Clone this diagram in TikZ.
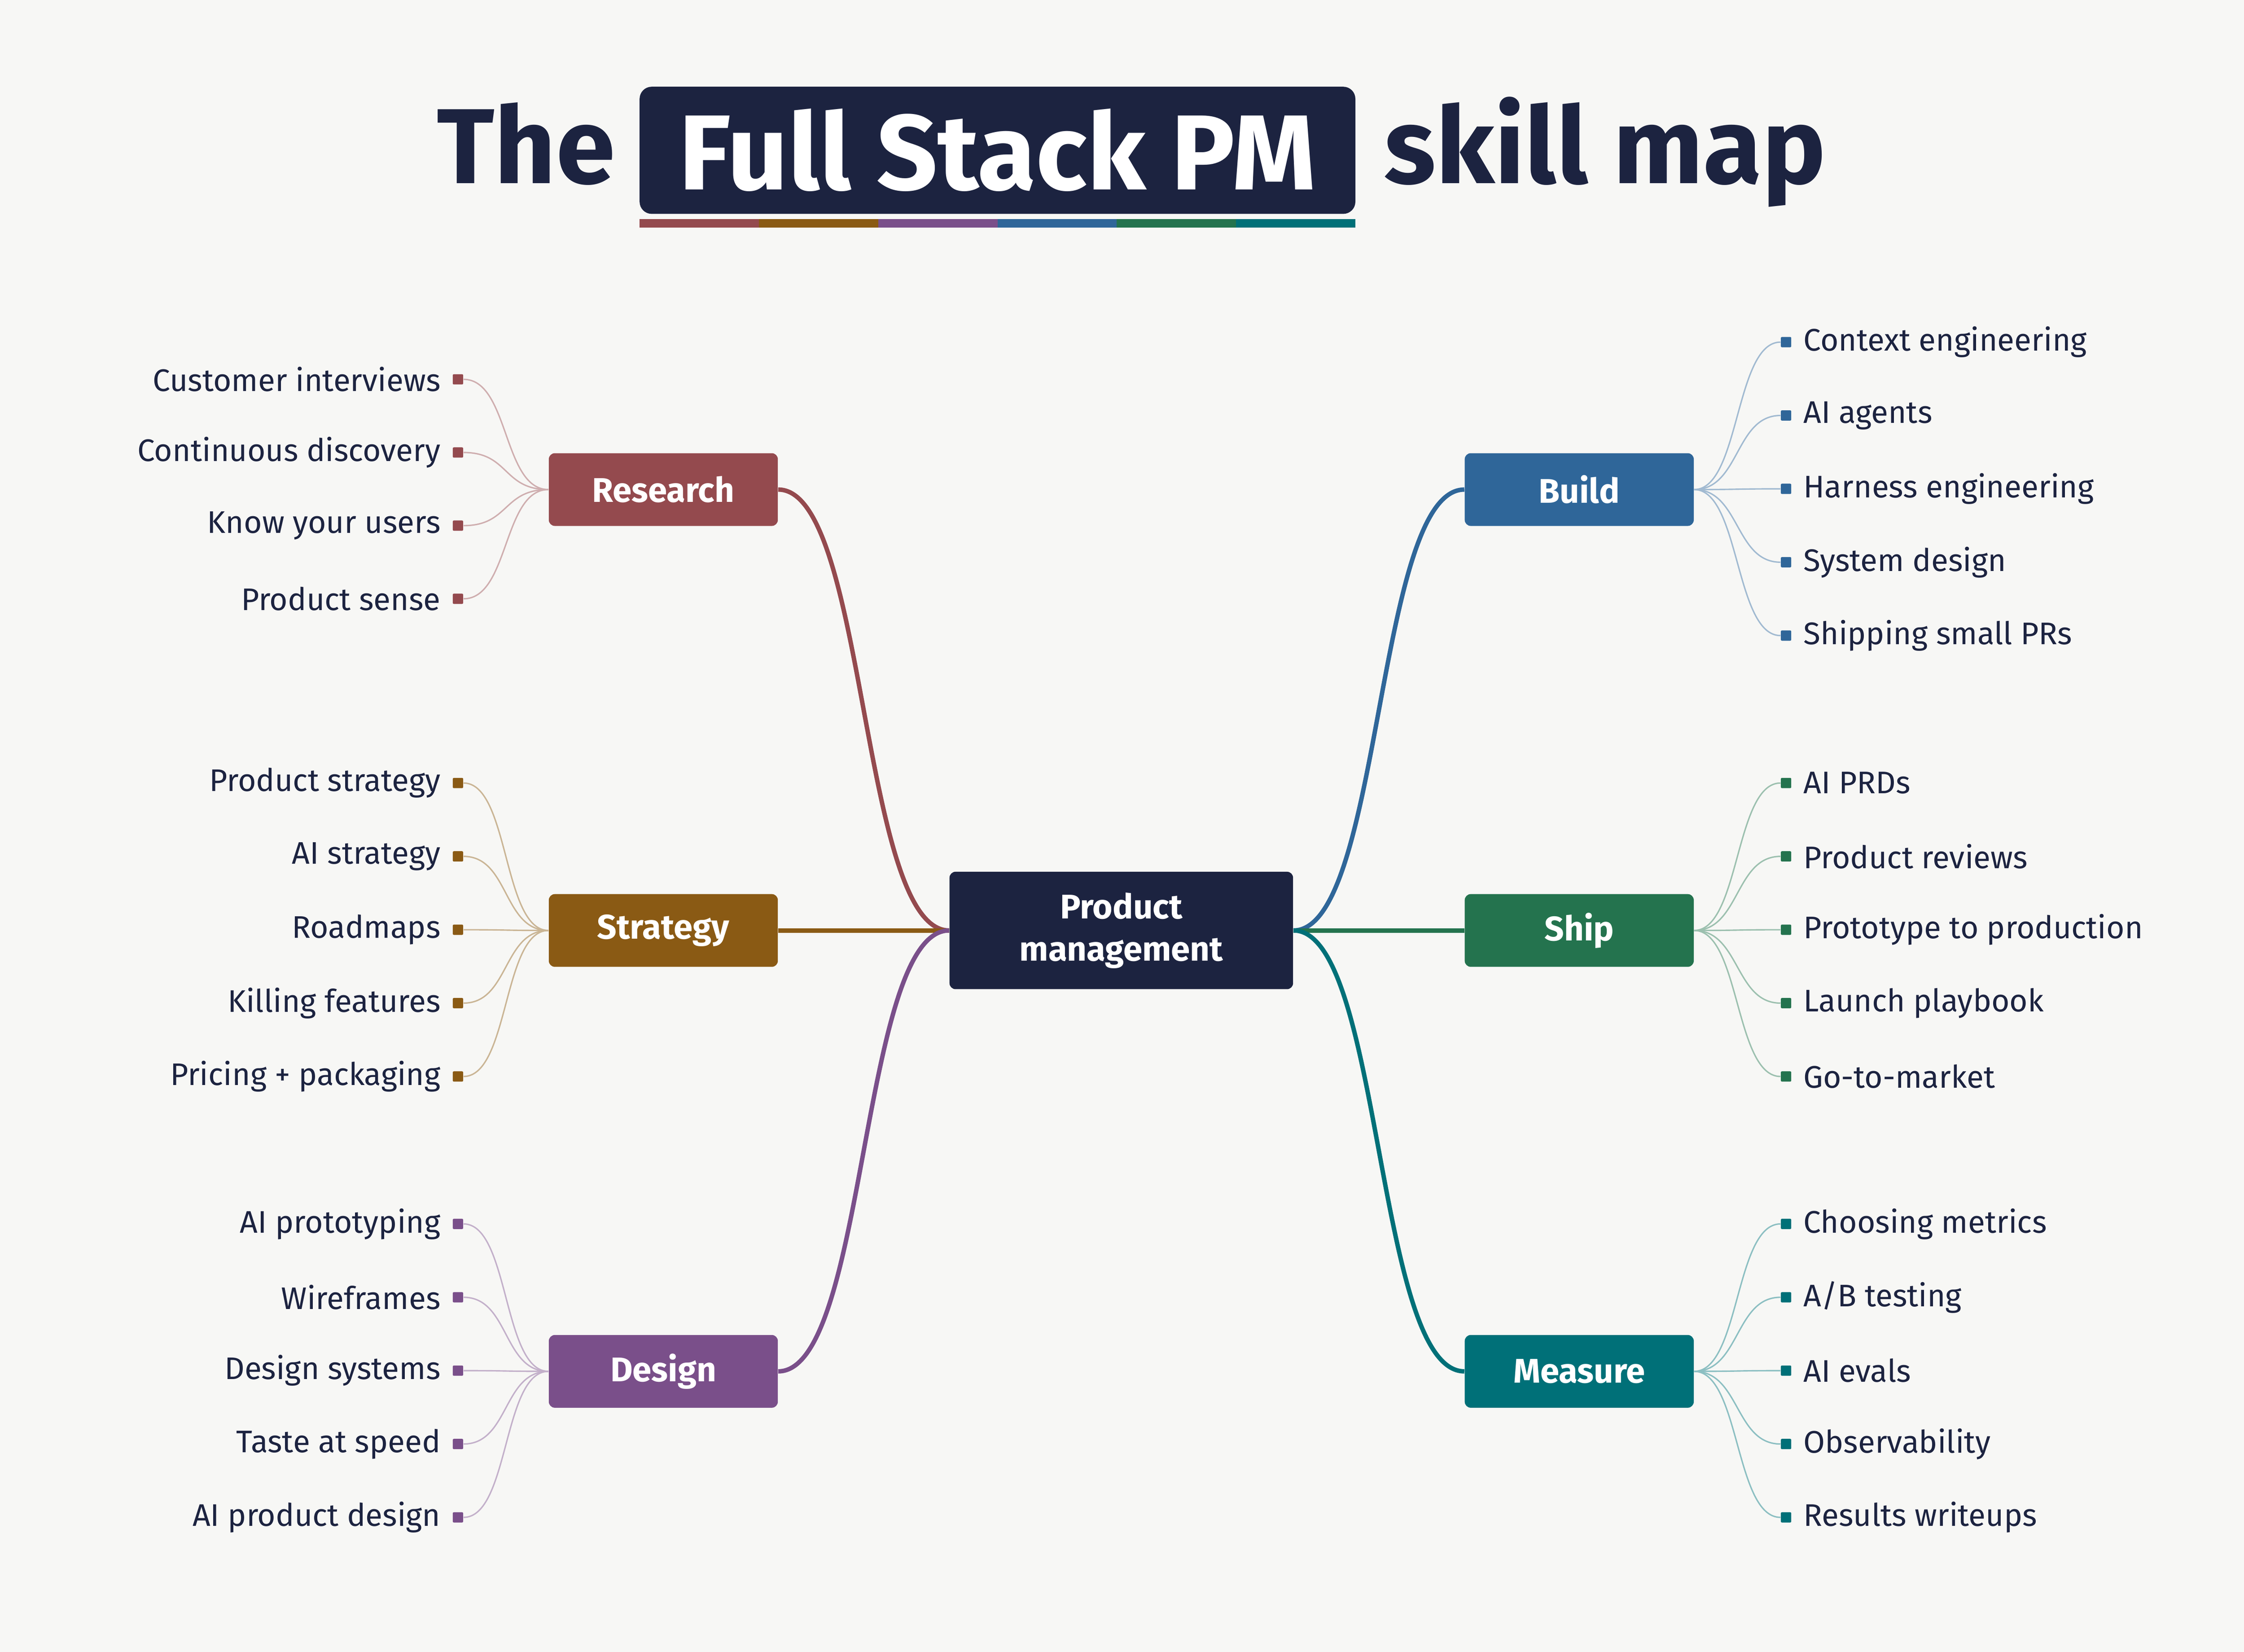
\documentclass[tikz,border=0pt]{standalone}
\usepackage{fontspec}
\setmainfont{Fira Sans}
\usetikzlibrary{positioning}
\definecolor{ink}{HTML}{1C2340}
\definecolor{paper}{HTML}{F7F7F5}
\definecolor{research}{HTML}{944A4E}
\definecolor{strategy}{HTML}{8A5A14}
\definecolor{design}{HTML}{7A4F8A}
\definecolor{build}{HTML}{2F6699}
\definecolor{ship}{HTML}{24734E}
\definecolor{measure}{HTML}{007078}
\tikzset{
  branch/.style={draw=none, fill=#1, rounded corners=3pt, text=white, font=\fontsize{17}{20}\selectfont\bfseries, minimum width=4cm, minimum height=1.27cm, inner sep=0pt},
  mark/.style={fill=#1, minimum size=0.18cm, inner sep=0pt, rounded corners=0.5pt},
  leaftext/.style={text=ink, font=\fontsize{15.5}{18}\selectfont, inner sep=0pt},
  trunk/.style={draw=#1, line width=2.2pt},
  twig/.style={draw=#1!45, line width=0.7pt},
  title/.style={text=ink, font=\fontsize{53}{60}\selectfont\bfseries, inner sep=0pt}
}
\begin{document}
\begin{tikzpicture}[x=0.025cm, y=-0.025cm]
  \fill[paper] (0,0) rectangle (1568,1154);
  \useasboundingbox (0,0) rectangle (1568,1154);

  % title
  \node[title, fill=ink, text=white, rounded corners=6pt, minimum width=12.5cm, minimum height=2.22cm] (full) at (697,105) {Full Stack PM};
  \node[title, anchor=base east] (the) at (430,128) {The};
  \node[title, anchor=base west] (skill) at (967,128) {skill map};
  \foreach \c [count=\i] in {research,strategy,design,build,ship,measure}
    \fill[\c] (447+83.33*\i-83.33,153) rectangle (447+83.33*\i,159);

  % centre and branches
  \node[branch=ink, minimum width=6cm, minimum height=2.05cm, align=center, font=\fontsize{17}{21}\selectfont\bfseries] (pm) at (783.5,650) {Product\\management};
  \node[branch=research] (research) at (463.5,342) {Research};
  \node[branch=strategy] (strategy) at (463.5,650) {Strategy};
  \node[branch=design] (design) at (463.5,958) {Design};
  \node[branch=build] (build) at (1103.5,342) {Build};
  \node[branch=ship] (ship) at (1103.5,650) {Ship};
  \node[branch=measure] (measure) at (1103.5,958) {Measure};

  \foreach \b in {research,strategy,design}
    \draw[trunk=\b] (pm.west) .. controls +(-62,0) and +(62,0) .. (\b.east);
  \foreach \b in {build,ship,measure}
    \draw[trunk=\b] (pm.east) .. controls +(62,0) and +(-62,0) .. (\b.west);

  % left leaves
  \foreach \t [count=\i] in {Customer interviews,Continuous discovery,Know your users,Product sense}{
    \pgfmathsetmacro\y{265+51.1*(\i-1)}
    \node[mark=research, label={[leaftext, xshift=-0.2cm]left:\t}] (research-\i) at (320,\y) {};
    \draw[twig=research] (research.west) .. controls +(-32,0) and +(32,0) .. (research-\i.east);
  }
  \foreach \t [count=\i] in {Product strategy,AI strategy,Roadmaps,Killing features,Pricing + packaging}{
    \pgfmathsetmacro\y{547+51.25*(\i-1)}
    \node[mark=strategy, label={[leaftext, xshift=-0.2cm]left:\t}] (strategy-\i) at (320,\y) {};
    \draw[twig=strategy] (strategy.west) .. controls +(-32,0) and +(32,0) .. (strategy-\i.east);
  }
  \foreach \t [count=\i] in {AI prototyping,Wireframes,Design systems,Taste at speed,AI product design}{
    \pgfmathsetmacro\y{855+51.25*(\i-1)}
    \node[mark=design, label={[leaftext, xshift=-0.2cm]left:\t}] (design-\i) at (320,\y) {};
    \draw[twig=design] (design.west) .. controls +(-32,0) and +(32,0) .. (design-\i.east);
  }

  % right leaves
  \foreach \t [count=\i] in {Context engineering,AI agents,Harness engineering,System design,Shipping small PRs}{
    \pgfmathsetmacro\y{239+51.25*(\i-1)}
    \node[mark=build, label={[leaftext, xshift=0.2cm]right:\t}] (build-\i) at (1248,\y) {};
    \draw[twig=build] (build.east) .. controls +(32,0) and +(-32,0) .. (build-\i.west);
  }
  \foreach \t [count=\i] in {AI PRDs,Product reviews,Prototype to production,Launch playbook,Go-to-market}{
    \pgfmathsetmacro\y{547+51.25*(\i-1)}
    \node[mark=ship, label={[leaftext, xshift=0.2cm]right:\t}] (ship-\i) at (1248,\y) {};
    \draw[twig=ship] (ship.east) .. controls +(32,0) and +(-32,0) .. (ship-\i.west);
  }
  \foreach \t [count=\i] in {Choosing metrics,A/B testing,AI evals,Observability,Results writeups}{
    \pgfmathsetmacro\y{855+51.25*(\i-1)}
    \node[mark=measure, label={[leaftext, xshift=0.2cm]right:\t}] (measure-\i) at (1248,\y) {};
    \draw[twig=measure] (measure.east) .. controls +(32,0) and +(-32,0) .. (measure-\i.west);
  }
\end{tikzpicture}
\end{document}
